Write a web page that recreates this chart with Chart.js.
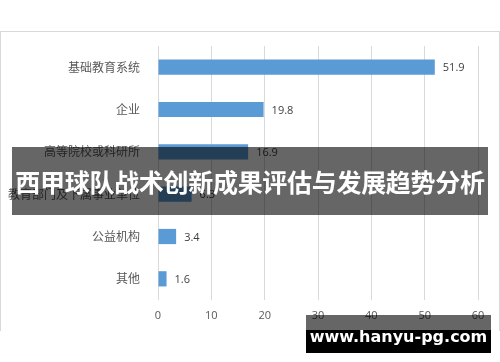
<!DOCTYPE html>
<html>
<head>
<meta charset="utf-8">
<script src="https://cdn.jsdelivr.net/npm/chart.js@4.4.0/dist/chart.umd.min.js"></script>
<style>
  body{margin:0;width:500px;height:362px;background:#fff;position:relative;overflow:hidden;font-family:"Noto Sans CJK SC",sans-serif}
  #box{position:absolute;left:0;top:31px;width:498px;height:299px;border:1px solid #d9d9d9;border-bottom:none}
  #wrap{position:absolute;left:0;top:0;width:500px;height:362px}
  #banner{position:absolute;left:12px;top:147px;width:476px;height:68px;background:rgba(0,0,0,0.6);color:#fff;
    font-weight:bold;font-size:25px;line-height:68px;text-align:center;white-space:nowrap;letter-spacing:-0.3px}
  #mark{position:absolute;left:306px;top:315px;width:185px;height:38px;
    background:linear-gradient(rgba(0,0,0,0.6) 0 15px,#000 15px);color:#fff;font-family:"DejaVu Sans",sans-serif;
    font-weight:bold;font-size:16px;line-height:16px;text-align:center;box-sizing:border-box;padding-top:14px}
</style>
</head>
<body>
<div id="box"></div>
<div id="wrap"><canvas id="myChart" width="500" height="362"></canvas></div>
<div id="banner">西甲球队战术创新成果评估与发展趋势分析</div>
<div id="mark">www.hanyu-pg.com</div>
<script>
var categories=['基础教育系统','企业','高等院校或科研所','教育部门及下属事业单位','公益机构','其他']
var values=[51.9,19.8,16.9,6.3,3.4,1.6]
var xticks=[0,10,20,30,40,50,60]

var valueLabels={
  id:'valueLabels',
  afterDatasetsDraw:function(chart){
    var ctx=chart.ctx
    var meta=chart.getDatasetMeta(0)
    ctx.save()
    ctx.font='11px "Open Sans", sans-serif'
    ctx.fillStyle='#404040'
    ctx.textBaseline='middle'
    meta.data.forEach(function(bar,i){
      ctx.fillText(values[i].toFixed(1),bar.x+8,bar.y+1)
    })
    ctx.restore()
  }
}

function setChart(){
  var ctx=document.getElementById('myChart')
  new Chart(ctx,{
    type:'bar',
    data:{
      labels:categories,
      datasets:[{
        data:values,
        backgroundColor:'#5b9bd5',
        borderWidth:0,
        barPercentage:0.36,
        categoryPercentage:1
      }]
    },
    options:{
      indexAxis:'y',
      responsive:false,
      animation:false,
      layout:{padding:{left:8,right:22,top:46,bottom:32}},
      plugins:{legend:{display:false},tooltip:{enabled:false}},
      scales:{
        x:{
          min:0,max:60,
          afterBuildTicks:function(s){s.ticks=xticks.map(function(v){return {value:v}})},
          afterFit:function(s){s.height=30},
          border:{display:false},
          grid:{color:'#d9d9d9',drawTicks:false},
          ticks:{padding:9,color:'#595959',font:{size:11,family:'"Open Sans", sans-serif'}}
        },
        y:{
          afterFit:function(s){s.width=150},
          border:{display:false},
          grid:{display:false},
          ticks:{padding:10,color:'#595959',font:{size:12,family:'"Noto Sans CJK SC", sans-serif'}}
        }
      }
    },
    plugins:[valueLabels]
  })
}
setChart()
</script>
</body>
</html>
